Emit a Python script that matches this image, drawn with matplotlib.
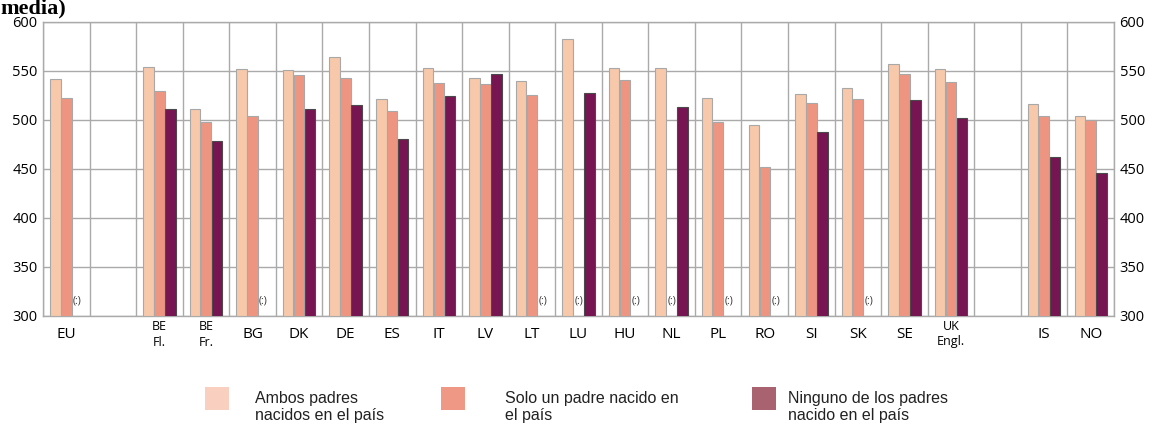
import numpy as np
import matplotlib.pyplot as plt
import matplotlib.transforms as mtransforms
from matplotlib.patches import Rectangle

# Data (None = not available, shown as "(:)")
categories = ["EU", "BE\nFl.", "BE\nFr.", "BG", "DK", "DE", "ES", "IT", "LV", "LT",
              "LU", "HU", "NL", "PL", "RO", "SI", "SK", "SE", "UK\nEngl.", "IS", "NO"]
both_native = [542, 554, 511, 552, 551, 564, 521, 553, 543, 540,
               583, 553, 553, 522, 495, 527, 533, 557, 552, 516, 504]
one_native = [522, 530, 498, 504, 546, 543, 509, 538, 537, 525,
              None, 541, None, 498, 452, 517, 521, 547, 539, 504, 500]
none_native = [None, 511, 479, None, 511, 515, 481, 524, 547, None,
               528, None, 513, None, None, 488, None, 520, 502, 462, 446]
series_labels = ["Ambos padres\nnacidos en el país",
                 "Solo un padre nacido en\nel país",
                 "Ninguno de los padres\nnacido en el país"]
yticks = [300, 350, 400, 450, 500, 550, 600]

bar_colors = ["#F7C9AA", "#EE9581", "#771552"]
edge_colors = ["#A8A8A8", "#A8A8A8", "#4A4A4A"]
legend_colors = ["#F9CFC0", "#F09886", "#A9626F"]

# empty slots after these categories
gap_after = {"EU": 1, "UK\nEngl.": 1}

pos = []
slot = 0
for c in categories:
    pos.append(slot)
    slot += 1 + gap_after.get(c, 0)
pos = np.array(pos, dtype=float)
n_slots = slot

W, H = 1162.0, 428.0
fig = plt.figure(figsize=(11.62, 4.28), dpi=100)
ax = fig.add_axes([0.037, 0.2617, 0.9217, 0.6869])

font = "Open Sans"
width = 0.225
offsets = [-0.235, 0.0, 0.235]
for k, vals in enumerate([both_native, one_native, none_native]):
    for x, v in zip(pos, vals):
        if v is None:
            ax.text(x + offsets[k], 315, "(:)", ha="center", va="center",
                    fontsize=7.5, family=font, color="#333333")
        else:
            ax.bar(x + offsets[k], v - 300, width=width, bottom=300,
                   color=bar_colors[k], edgecolor=edge_colors[k],
                   linewidth=0.8, zorder=3)

ax.set_xlim(-0.5, n_slots - 0.5)
ax.set_ylim(300, 600)
ax.set_yticks(yticks)
ax.set_yticklabels([str(t) for t in yticks], family=font, fontsize=10.5)
ax.set_xticks(np.arange(-0.5, n_slots, 1), minor=True)
ax.set_xticks([])
ax.tick_params(axis="x", which="both", length=0, labelbottom=False)
ax.tick_params(axis="y", length=0, pad=4, labelright=True)

# category labels under the axis
trans = mtransforms.blended_transform_factory(ax.transData, fig.transFigure)
for x, c in zip(pos, categories):
    if "\n" in c:
        ax.text(x, 1 - 320 / H, c, ha="center", va="top", fontsize=9,
                family=font, linespacing=1.25, transform=trans)
    else:
        ax.text(x, 1 - 335 / H, c, ha="center", va="center", fontsize=11,
                family=font, transform=trans)

ax.grid(True, axis="y", color="#AAAAAA", linewidth=1)
ax.grid(True, axis="x", which="minor", color="#AAAAAA", linewidth=1)
ax.set_axisbelow(True)
for sp in ax.spines.values():
    sp.set_color("#AAAAAA")
    sp.set_linewidth(1)

# legend drawn manually at bottom
patch_x = [205, 441, 752]
text_x = [255, 505, 788]
for k in range(3):
    fig.patches.append(Rectangle((patch_x[k] / W, 1 - 410 / H), 24 / W, 23 / H,
                                 transform=fig.transFigure, facecolor=legend_colors[k],
                                 edgecolor="none"))
    fig.text(text_x[k] / W, 1 - 407 / H, series_labels[k], ha="left", va="center",
             fontsize=11.5, family="Liberation Sans", linespacing=1.2, color="#222222")

fig.text(0.0, 1 - 13 / H, "media)", ha="left", va="baseline", fontsize=16,
         fontweight="bold", family="Liberation Serif")

fig.savefig("out.png", dpi=100)
